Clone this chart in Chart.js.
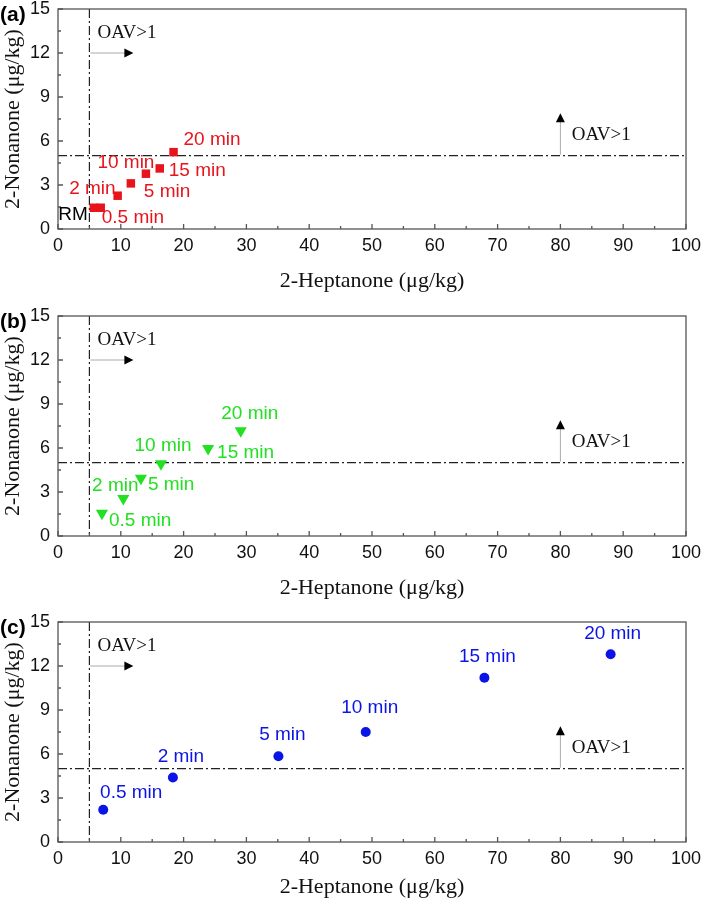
<!DOCTYPE html>
<html>
<head>
<meta charset="utf-8">
<script src="https://cdn.jsdelivr.net/npm/chart.js@4"></script>
<style>
  body { margin: 0; background: #fff; width: 705px; height: 905px; overflow: hidden; position: relative; }
  canvas { position: absolute; left: 0; }
</style>
</head>
<body>
<canvas id="chartA" width="705" height="300" style="top:0px"></canvas>
<canvas id="chartB" width="705" height="300" style="top:307px"></canvas>
<canvas id="chartC" width="705" height="300" style="top:613px"></canvas>
<script>
// Données
const timesA = ['RM', '0.5 min', '2 min', '5 min', '10 min', '15 min', '20 min'];
const heptanoneA = [5.7, 6.8, 9.5, 11.6, 14.0, 16.2, 18.4];
const nonanoneA = [1.45, 1.45, 2.27, 3.11, 3.77, 4.13, 5.24];

const timesBC = ['0.5 min', '2 min', '5 min', '10 min', '15 min', '20 min'];
const heptanoneB = [7.0, 10.4, 13.2, 16.4, 23.9, 29.1];
const nonanoneB = [1.55, 2.56, 3.94, 4.92, 5.96, 7.18];
const heptanoneC = [7.2, 18.3, 35.1, 49.0, 67.9, 88.0];
const nonanoneC = [2.2, 4.4, 5.85, 7.5, 11.2, 12.8];

// Seuils OAV = 1
const heptanoneThreshold = 5;
const nonanoneThreshold = 5;

const xTickValues = [0, 10, 20, 30, 40, 50, 60, 70, 80, 90, 100];
const yTickValues = [0, 3, 6, 9, 12, 15];

// Placement des étiquettes (décalage en px, alignement)
const labelPosA = [[-6, 7, 'right'], [1, 10, 'left'], [-2, -7, 'right'], [13, 8, 'left'], [-20, -11, 'center'], [9, 2, 'left'], [10, -12, 'left']];
const labelPosB = [[7, 7, 'left'], [-8, -13, 'center'], [7, 7, 'left'], [2, -18, 'center'], [9, 4, 'left'], [9, -17, 'center']];
const labelPosC = [[28, -17, 'center'], [8, -21, 'center'], [4, -21, 'center'], [4, -24, 'center'], [3, -21, 'center'], [2, -21, 'center']];

Chart.defaults.font.family = "'Liberation Sans', Arial, sans-serif";
Chart.defaults.color = '#111';

function drawArrowHead(ctx, x, y, dir) {
    ctx.beginPath();
    if (dir === 'right') {
        ctx.moveTo(x, y); ctx.lineTo(x - 9, y - 4.5); ctx.lineTo(x - 9, y + 4.5);
    } else {
        ctx.moveTo(x, y); ctx.lineTo(x - 4.5, y + 9); ctx.lineTo(x + 4.5, y + 9);
    }
    ctx.closePath();
    ctx.fill();
}

const overlayPlugin = {
    id: 'overlay',
    beforeDatasetsDraw(chart) {
        const { ctx, chartArea: a, scales: { x, y } } = chart;
        ctx.save();
        ctx.strokeStyle = '#222';
        ctx.lineWidth = 1.2;
        ctx.setLineDash([9, 3, 2, 3]);
        const tx = x.getPixelForValue(heptanoneThreshold);
        ctx.beginPath(); ctx.moveTo(tx, a.top); ctx.lineTo(tx, a.bottom); ctx.stroke();
        const ty = y.getPixelForValue(nonanoneThreshold);
        ctx.beginPath(); ctx.moveTo(a.left, ty); ctx.lineTo(a.right, ty); ctx.stroke();
        ctx.restore();
    },
    afterDatasetsDraw(chart, args, opts) {
        const { ctx, chartArea: a, scales: { x, y } } = chart;
        ctx.save();

        // cadre + graduations internes
        ctx.strokeStyle = '#555';
        ctx.lineWidth = 1.3;
        ctx.strokeRect(a.left, a.top, a.right - a.left, a.bottom - a.top);
        ctx.beginPath();
        for (let i = 0; i < xTickValues.length; i++) {
            const px = x.getPixelForValue(xTickValues[i]);
            ctx.moveTo(px, a.bottom); ctx.lineTo(px, a.bottom - 5);
            if (i < xTickValues.length - 1) {
                const mx = x.getPixelForValue((xTickValues[i] + xTickValues[i + 1]) / 2);
                ctx.moveTo(mx, a.bottom); ctx.lineTo(mx, a.bottom - 3);
            }
        }
        for (let i = 0; i < yTickValues.length; i++) {
            const py = y.getPixelForValue(yTickValues[i]);
            ctx.moveTo(a.left, py); ctx.lineTo(a.left + 5, py);
            if (i < yTickValues.length - 1) {
                const my = y.getPixelForValue((yTickValues[i] + yTickValues[i + 1]) / 2);
                ctx.moveTo(a.left, my); ctx.lineTo(a.left + 3, my);
            }
        }
        ctx.stroke();

        // flèches OAV>1
        const hx0 = x.getPixelForValue(heptanoneThreshold) + 1;
        const hx1 = x.getPixelForValue(12);
        const hy = y.getPixelForValue(12);
        ctx.strokeStyle = '#aaa';
        ctx.lineWidth = 1;
        ctx.beginPath(); ctx.moveTo(hx0, hy); ctx.lineTo(hx1 - 8, hy); ctx.stroke();
        const vx = x.getPixelForValue(80);
        const vy0 = y.getPixelForValue(nonanoneThreshold) - 1;
        const vy1 = y.getPixelForValue(7.9);
        ctx.beginPath(); ctx.moveTo(vx, vy0); ctx.lineTo(vx, vy1 + 8); ctx.stroke();
        ctx.fillStyle = '#000';
        drawArrowHead(ctx, hx1, hy, 'right');
        drawArrowHead(ctx, vx, vy1, 'up');

        ctx.font = "19px 'Liberation Serif', serif";
        ctx.textAlign = 'left';
        ctx.textBaseline = 'middle';
        ctx.fillStyle = '#111';
        ctx.fillText('OAV>1', x.getPixelForValue(6.3), y.getPixelForValue(13.35));
        ctx.fillText('OAV>1', x.getPixelForValue(81.8), y.getPixelForValue(6.4));

        // étiquettes des points
        const meta = chart.getDatasetMeta(0);
        ctx.font = "19px 'Liberation Sans', Arial, sans-serif";
        opts.labels.forEach((txt, i) => {
            const p = meta.data[i];
            const [dx, dy, align] = opts.positions[i];
            ctx.textAlign = align;
            ctx.fillStyle = txt === 'RM' ? '#000' : opts.color;
            ctx.fillText(txt, p.x + dx, p.y + dy);
        });

        // repère du panneau
        ctx.font = "bold 21px 'Liberation Sans', Arial, sans-serif";
        ctx.textAlign = 'left';
        ctx.fillStyle = '#000';
        ctx.fillText(opts.tag, 0, 15);
        ctx.restore();
    }
};

function makeChart(id, tag, xs, ys, labels, positions, color, pointStyle, rotation, radius, titlePad) {
    const ctx = document.getElementById(id).getContext('2d');
    return new Chart(ctx, {
        type: 'scatter',
        data: {
            datasets: [{
                data: xs.map((v, i) => ({ x: v, y: ys[i] })),
                backgroundColor: color,
                borderColor: color,
                borderWidth: 0,
                pointStyle: pointStyle,
                rotation: rotation,
                pointRadius: radius
            }]
        },
        options: {
            responsive: false,
            animation: false,
            layout: { padding: { top: 9, right: 19, left: 0, bottom: 0 } },
            plugins: {
                legend: { display: false },
                tooltip: { enabled: false },
                overlay: { tag: tag, labels: labels, positions: positions, color: color }
            },
            scales: {
                x: {
                    type: 'linear',
                    min: 0,
                    max: 100,
                    afterBuildTicks: s => { s.ticks = xTickValues.map(v => ({ value: v })); },
                    afterFit: s => { s.height = 71; s.paddingRight = 0; s.paddingLeft = 0; },
                    grid: { display: false, drawTicks: false },
                    border: { display: false },
                    ticks: { padding: 6, maxRotation: 0, font: { size: 18 }, color: '#111' },
                    title: {
                        display: true,
                        text: '2-Heptanone (μg/kg)',
                        font: { family: "'Liberation Serif', serif", size: 22 },
                        padding: { top: 0, bottom: titlePad },
                        color: '#111'
                    }
                },
                y: {
                    type: 'linear',
                    min: 0,
                    max: 15,
                    afterBuildTicks: s => { s.ticks = yTickValues.map(v => ({ value: v })); },
                    afterFit: s => { s.width = 58; s.paddingTop = 0; s.paddingBottom = 0; },
                    grid: { display: false, drawTicks: false },
                    border: { display: false },
                    ticks: { padding: 8, font: { size: 18 }, color: '#111' },
                    title: {
                        display: true,
                        text: '2-Nonanone (μg/kg)',
                        font: { family: "'Liberation Serif', serif", size: 22 },
                        padding: 0,
                        color: '#111'
                    }
                }
            }
        },
        plugins: [overlayPlugin]
    });
}

makeChart('chartA', '(a)', heptanoneA, nonanoneA, timesA, labelPosA, '#e8141c', 'rect', 0, 6, 6);
makeChart('chartB', '(b)', heptanoneB, nonanoneB, timesBC, labelPosB, '#22e022', 'triangle', 180, 7, 6);
makeChart('chartC', '(c)', heptanoneC, nonanoneC, timesBC, labelPosC, '#0a14e6', 'circle', 0, 5, 13);
</script>
</body>
</html>
